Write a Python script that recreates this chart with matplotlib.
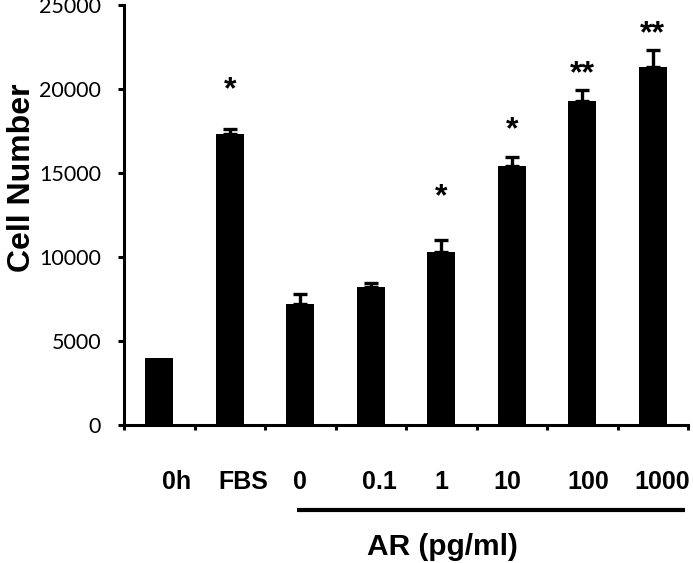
import numpy as np
import matplotlib
matplotlib.use("Agg")
import matplotlib.pyplot as plt
import matplotlib.transforms as mtransforms

# data
groups = ["0h", "FBS", "0", "0.1", "1", "10", "100", "1000"]
cell_number = [4000, 17300, 7200, 8200, 10300, 15400, 19300, 21300]
sem = [0, 330, 600, 250, 700, 560, 650, 1050]
stars = ["", "*", "", "", "*", "*", "**", "**"]
star_y = [0, 20150, 0, 0, 13750, 17750, 21100, 23450]

# layout tweaks for the category labels (shift in bar units)
label_shift = [0.25, 0.19, 0.0, 0.13, 0.0, -0.07, 0.08, 0.13]

fig = plt.figure(figsize=(6.93, 5.63), dpi=100)
ax = fig.add_axes([124 / 693, 138 / 563, 564 / 693, 420 / 563])

x = np.arange(len(groups))
ax.bar(x, cell_number, width=0.4, color="black", zorder=2)

err = np.array(sem)
has_err = err > 0
ax.errorbar(x[has_err], np.array(cell_number)[has_err],
            yerr=[np.zeros(has_err.sum()), err[has_err]],
            fmt="none", ecolor="black", elinewidth=2.4, capsize=4.8,
            capthick=2.4, zorder=1)

for i, s in enumerate(stars):
    if s:
        ax.text(x[i], star_y[i], s, ha="center", va="center_baseline",
                fontsize=23, fontweight="bold", family="Liberation Sans")

ax.set_xlim(-0.5, len(groups) - 0.5)
ax.set_ylim(0, 25000)
ax.set_yticks([0, 5000, 10000, 15000, 20000, 25000])
for lab in ax.get_yticklabels():
    lab.set_family("Lato")
    lab.set_fontsize(15.5)
ax.tick_params(axis="y", direction="out", length=4.5, width=2.2, pad=12)

# tick marks sit between the bars, labels are drawn as text
ax.set_xticks(np.arange(-0.5, len(groups), 1.0))
ax.set_xticklabels([])
ax.tick_params(axis="x", direction="out", length=3.5, width=2.2)

for sp in ["top", "right"]:
    ax.spines[sp].set_visible(False)
for sp in ["left", "bottom"]:
    ax.spines[sp].set_linewidth(2.2)

trans = mtransforms.blended_transform_factory(ax.transData, ax.transAxes)
for i, g in enumerate(groups):
    ax.text(x[i] + label_shift[i], -0.136, g, transform=trans, ha="center",
            va="center", fontsize=18, fontweight="bold",
            family="Liberation Sans")

ax.plot([1.95, 7.46], [-0.2024, -0.2024], color="black", lw=3,
        transform=trans, clip_on=False, solid_capstyle="butt")
ax.text(4.02, -0.29, "AR (pg/ml)", transform=trans, ha="center",
        va="center", fontsize=21.5, fontweight="bold", family="Liberation Sans")

fig.text(22 / 693, 1 - 178 / 563, "Cell Number", rotation=90, ha="center",
         va="center", fontsize=23, fontweight="bold", family="Liberation Sans")

fig.savefig("out.png", dpi=100)
